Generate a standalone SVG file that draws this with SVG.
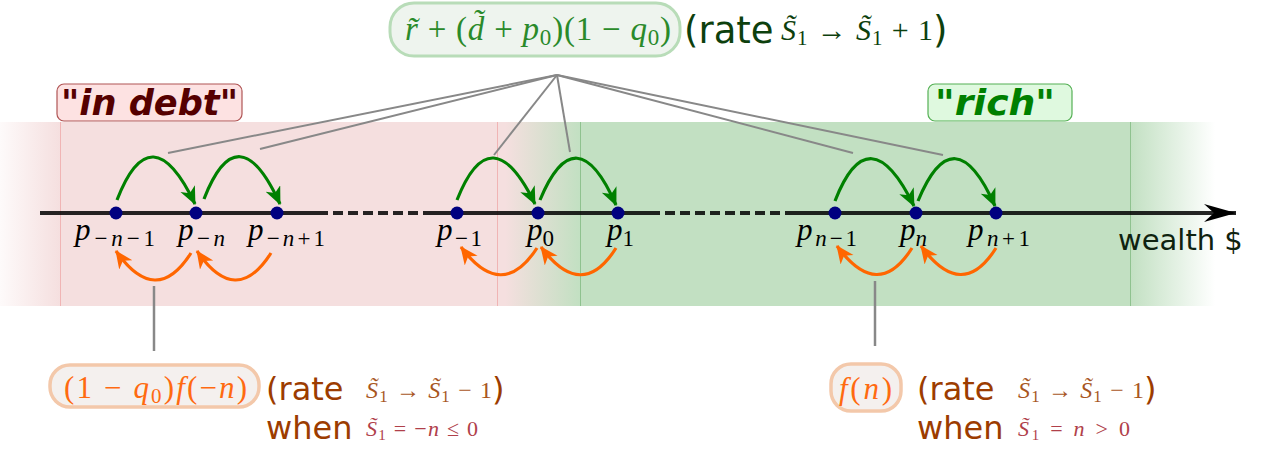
<svg xmlns="http://www.w3.org/2000/svg" width="1262" height="450" viewBox="0 0 1262 450">
<style>
.m{font-family:"Liberation Serif","DejaVu Serif",serif;}
.i{font-style:italic;}
.sans{font-family:"DejaVu Sans","Liberation Sans",sans-serif;}
.lbl{font-size:31px;fill:#000;}
.sb{font-size:23px;}
.gr{fill:none;stroke:#008000;stroke-width:3.2;marker-end:url(#ag);}
.or{fill:none;stroke:#ff6600;stroke-width:3.2;marker-end:url(#ao);}
.gl{stroke:#888;stroke-width:2;fill:none;}
.nd{fill:#000080;}
.ax{stroke:#000;stroke-opacity:0.85;stroke-width:4;fill:none;}
</style>
<defs>
<linearGradient id="fadeL" x1="0" x2="1" y1="0" y2="0"><stop offset="0" stop-color="#f5dfdf" stop-opacity="0.15"/><stop offset="1" stop-color="#f5dfdf" stop-opacity="1"/></linearGradient>
<linearGradient id="mid" x1="0" x2="1" y1="0" y2="0"><stop offset="0.1" stop-color="#f5dfdf"/><stop offset="1" stop-color="#c2e0c2"/></linearGradient>
<linearGradient id="fadeR" x1="0" x2="1" y1="0" y2="0"><stop offset="0" stop-color="#c2e0c2" stop-opacity="1"/><stop offset="1" stop-color="#c2e0c2" stop-opacity="0"/></linearGradient>
<marker id="ag" markerUnits="userSpaceOnUse" markerWidth="20" markerHeight="18" refX="17" refY="8" orient="auto"><path d="M0,0 L18,8 L0,16 L5,8 z" fill="#008000"/></marker>
<marker id="ao" markerUnits="userSpaceOnUse" markerWidth="20" markerHeight="18" refX="17" refY="8" orient="auto"><path d="M0,0 L18,8 L0,16 L5,8 z" fill="#ff6600"/></marker>
<marker id="ax" markerUnits="userSpaceOnUse" markerWidth="34" markerHeight="22" refX="32" refY="10" orient="auto"><path d="M0,1 L32,10 L0,19 L10,10 z" fill="#000"/></marker>
</defs>

<g id="regions">
<rect x="0" y="122" width="60" height="184" fill="url(#fadeL)"/>
<rect x="60" y="122" width="437" height="184" fill="#f5dfdf"/>
<rect x="497" y="122" width="83" height="184" fill="url(#mid)"/>
<rect x="580" y="122" width="550" height="184" fill="#c2e0c2"/>
<rect x="1130" y="122" width="85" height="184" fill="url(#fadeR)"/>
<line x1="60.5" y1="122" x2="60.5" y2="306" stroke="#f0b4b4" stroke-width="1"/>
<line x1="497.5" y1="122" x2="497.5" y2="306" stroke="#f0b4b4" stroke-width="1"/>
<line x1="580.5" y1="122" x2="580.5" y2="306" stroke="#8fc28f" stroke-width="1"/>
<line x1="1130.5" y1="122" x2="1130.5" y2="306" stroke="#8fc28f" stroke-width="1"/>
</g>

<g id="label-debt">
<rect x="57" y="84" width="185" height="37" rx="7" fill="#fde2e2" stroke="#b05555" stroke-width="1.2"/>
<text x="61" y="115" class="sans" style="font-size:36px;font-weight:bold;font-style:italic;fill:#550000" textLength="177" lengthAdjust="spacingAndGlyphs">"in debt"</text>
</g>
<g id="label-rich">
<rect x="928" y="84" width="144" height="37" rx="7" fill="#dff9df" stroke="#55b055" stroke-width="1.2"/>
<text x="935" y="115" class="sans" style="font-size:36px;font-weight:bold;font-style:italic;fill:#008000" textLength="120" lengthAdjust="spacingAndGlyphs">"rich"</text>
</g>

<g id="connectors">
<line class="gl" x1="557" y1="75" x2="168" y2="153"/>
<line class="gl" x1="557" y1="75" x2="260" y2="149"/>
<line class="gl" x1="557" y1="75" x2="494" y2="155"/>
<line class="gl" x1="557" y1="75" x2="570" y2="152"/>
<line class="gl" x1="557" y1="75" x2="853" y2="153"/>
<line class="gl" x1="557" y1="75" x2="943" y2="155"/>
<line class="gl" x1="154" y1="286" x2="154" y2="351" style="stroke-width:2.5"/>
<line class="gl" x1="875" y1="281" x2="875" y2="346" style="stroke-width:2.5"/>
<path class="gr" d="M117,200 Q151,112 195,204"/>
<path class="gr" d="M204,199 Q238,112 280,204"/>
<path class="gr" d="M457,200 Q491,114 535,204"/>
<path class="gr" d="M540,200 Q576,114 616,205"/>
<path class="gr" d="M835,201 Q869,114 914,206"/>
<path class="gr" d="M918,201 Q954,114 995,206"/>
<path class="or" d="M191,253 Q156,308 116,251"/>
<path class="or" d="M271,253 Q236,308 197,251"/>
<path class="or" d="M537,248 Q502,302 461,247"/>
<path class="or" d="M616,248 Q582,302 541,247"/>
<path class="or" d="M912,248 Q878,302 837,246"/>
<path class="or" d="M996,248 Q962,302 921,246"/>
</g>

<g id="axis">
<line class="ax" x1="40" y1="213" x2="318" y2="213"/>
<line class="ax" x1="318" y1="213" x2="430" y2="213" stroke-dasharray="10 5"/>
<line class="ax" x1="430" y1="213" x2="650" y2="213"/>
<line class="ax" x1="650" y1="213" x2="795" y2="213" stroke-dasharray="10 5"/>
<line class="ax" x1="795" y1="213" x2="1236" y2="213" marker-end="url(#ax)"/>
<text x="1118" y="250" class="sans" style="font-size:29px;fill:#0f220f">wealth $</text>
</g>

<g id="node-pm-n-1"><circle class="nd" cx="116" cy="213" r="6.5"/><text x="75" y="240" class="m lbl" textLength="80" lengthAdjust="spacing"><tspan class="i">p</tspan><tspan dy="6" class="sb">−<tspan class="i">n</tspan>−1</tspan></text></g>
<g id="node-pm-n"><circle class="nd" cx="196" cy="213" r="6.5"/><text x="178" y="240" class="m lbl" textLength="47" lengthAdjust="spacing"><tspan class="i">p</tspan><tspan dy="6" class="sb">−<tspan class="i">n</tspan></tspan></text></g>
<g id="node-pm-n1"><circle class="nd" cx="277" cy="213" r="6.5"/><text x="248" y="240" class="m lbl" textLength="77" lengthAdjust="spacing"><tspan class="i">p</tspan><tspan dy="6" class="sb">−<tspan class="i">n</tspan>+1</tspan></text></g>
<g id="node-pm1"><circle class="nd" cx="457" cy="213" r="6.5"/><text x="437" y="240" class="m lbl" textLength="45" lengthAdjust="spacing"><tspan class="i">p</tspan><tspan dy="6" class="sb">−1</tspan></text></g>
<g id="node-p0"><circle class="nd" cx="538" cy="213" r="6.5"/><text x="527" y="240" class="m lbl"><tspan class="i">p</tspan><tspan dy="6" class="sb">0</tspan></text></g>
<g id="node-p1"><circle class="nd" cx="618" cy="213" r="6.5"/><text x="607" y="240" class="m lbl"><tspan class="i">p</tspan><tspan dy="6" class="sb">1</tspan></text></g>
<g id="node-pn-1"><circle class="nd" cx="835" cy="213" r="6.5"/><text x="797" y="240" class="m lbl" textLength="60" lengthAdjust="spacing"><tspan class="i">p</tspan><tspan dy="6" class="sb"><tspan class="i">n</tspan>−1</tspan></text></g>
<g id="node-pn"><circle class="nd" cx="916" cy="213" r="6.5"/><text x="900" y="240" class="m lbl"><tspan class="i">p</tspan><tspan dy="6" class="sb i">n</tspan></text></g>
<g id="node-pn1"><circle class="nd" cx="996" cy="213" r="6.5"/><text x="968" y="240" class="m lbl" textLength="62" lengthAdjust="spacing"><tspan class="i">p</tspan><tspan dy="6" class="sb"><tspan class="i">n</tspan>+1</tspan></text></g>

<g id="label-up">
<rect x="390" y="3" width="290" height="53" rx="24" fill="#eef4ee" stroke="#b8dcb8" stroke-width="3"/>
<text x="405" y="40" class="m" style="font-size:33px;fill:#2a8a2a" textLength="266" lengthAdjust="spacing"><tspan class="i">r̃</tspan> + (<tspan class="i">d̃</tspan> + <tspan class="i">p</tspan><tspan dy="5" style="font-size:23px">0</tspan><tspan dy="-5">)(1 − </tspan><tspan class="i">q</tspan><tspan dy="5" style="font-size:23px">0</tspan><tspan dy="-5">)</tspan></text>
<text x="684" y="43" class="sans" style="font-size:37px;fill:#0d400d">(rate</text>
<text x="781" y="40" class="m" style="font-size:30px;fill:#0d400d" textLength="152" lengthAdjust="spacing"><tspan class="i">S̃</tspan><tspan dy="5" style="font-size:21px">1</tspan><tspan dy="-5"> → </tspan><tspan class="i">S̃</tspan><tspan dy="5" style="font-size:21px">1</tspan><tspan dy="-5"> + 1</tspan></text>
<text x="933" y="43" class="sans" style="font-size:37px;fill:#0d400d">)</text>
</g>

<g id="label-down-left">
<rect x="50" y="365" width="209" height="42" rx="20" fill="#f4f0ee" stroke="#f3c8aa" stroke-width="3.5"/>
<text x="64" y="398" class="m" style="font-size:31px;fill:#ff6a10" textLength="183" lengthAdjust="spacing">(1 − <tspan class="i">q</tspan><tspan dy="5" style="font-size:21px">0</tspan><tspan dy="-5">)</tspan><tspan class="i">f</tspan>(−<tspan class="i">n</tspan>)</text>
<text x="266" y="400" class="sans" style="font-size:32px;fill:#9c3c00">(rate</text>
<text x="366" y="398" class="m" style="font-size:24px;fill:#a8561e" textLength="126" lengthAdjust="spacing"><tspan class="i">S̃</tspan><tspan dy="4" style="font-size:17px">1</tspan><tspan dy="-4"> → </tspan><tspan class="i">S̃</tspan><tspan dy="4" style="font-size:17px">1</tspan><tspan dy="-4"> − 1</tspan></text>
<text x="492" y="400" class="sans" style="font-size:32px;fill:#9c3c00">)</text>
<text x="266" y="439" class="sans" style="font-size:32px;fill:#9c3c00">when</text>
<text x="366" y="436" class="m" style="font-size:22px;fill:#b0404a" textLength="112" lengthAdjust="spacing"><tspan class="i">S̃</tspan><tspan dy="4" style="font-size:15px">1</tspan><tspan dy="-4"> = −</tspan><tspan class="i">n</tspan> ≤ 0</text>
</g>

<g id="label-down-right">
<rect x="831" y="364" width="70" height="47" rx="20" fill="#f4f0ee" stroke="#f3c8aa" stroke-width="3.5"/>
<text x="839" y="399" class="m" style="font-size:31px;fill:#ff6a10" textLength="53" lengthAdjust="spacing"><tspan class="i">f</tspan>(<tspan class="i">n</tspan>)</text>
<text x="917" y="400" class="sans" style="font-size:32px;fill:#9c3c00">(rate</text>
<text x="1018" y="398" class="m" style="font-size:24px;fill:#a8561e" textLength="126" lengthAdjust="spacing"><tspan class="i">S̃</tspan><tspan dy="4" style="font-size:17px">1</tspan><tspan dy="-4"> → </tspan><tspan class="i">S̃</tspan><tspan dy="4" style="font-size:17px">1</tspan><tspan dy="-4"> − 1</tspan></text>
<text x="1144" y="400" class="sans" style="font-size:32px;fill:#9c3c00">)</text>
<text x="917" y="439" class="sans" style="font-size:32px;fill:#9c3c00">when</text>
<text x="1018" y="436" class="m" style="font-size:22px;fill:#b0404a" textLength="112" lengthAdjust="spacing"><tspan class="i">S̃</tspan><tspan dy="4" style="font-size:15px">1</tspan><tspan dy="-4"> = </tspan><tspan class="i">n</tspan> &gt; 0</text>
</g>
</svg>
